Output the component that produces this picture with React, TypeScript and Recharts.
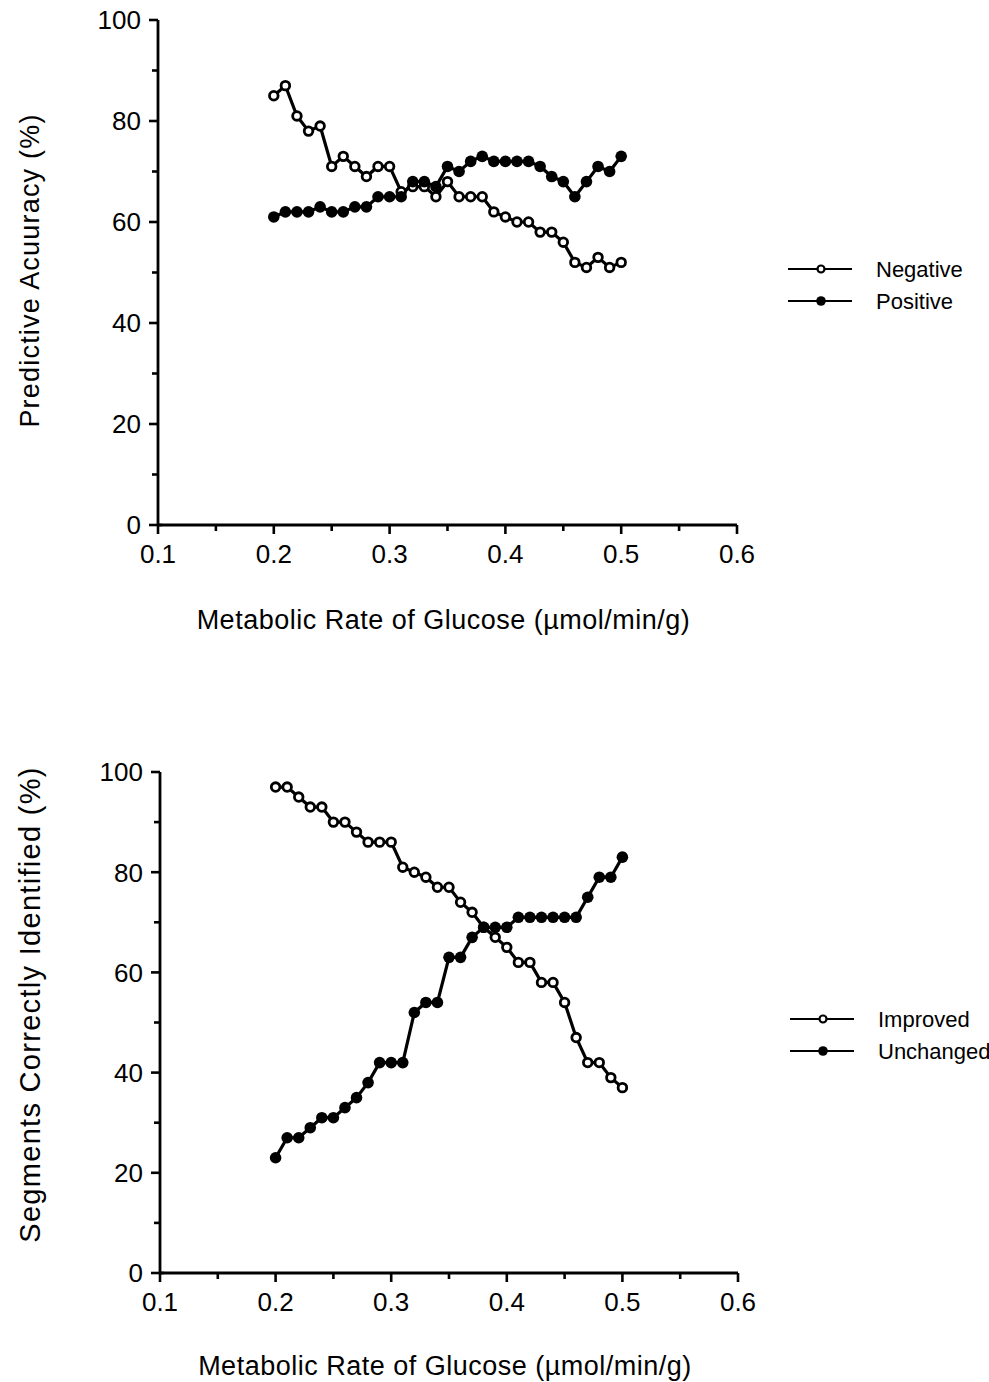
import React from 'react';
import { LineChart, Line, XAxis, YAxis, Legend, Label } from 'recharts';

const FONT = '"Liberation Sans", Arial, Helvetica, sans-serif';

// Metabolic rate of glucose (µmol/min/g) thresholds
const glucoseRates = [
  0.2, 0.21, 0.22, 0.23, 0.24, 0.25, 0.26, 0.27, 0.28, 0.29, 0.3,
  0.31, 0.32, 0.33, 0.34, 0.35, 0.36, 0.37, 0.38, 0.39, 0.4,
  0.41, 0.42, 0.43, 0.44, 0.45, 0.46, 0.47, 0.48, 0.49, 0.5,
];

// Predictive accuracy (%)
const negativeAccuracy = [
  85, 87, 81, 78, 79, 71, 73, 71, 69, 71, 71,
  66, 67, 67, 65, 68, 65, 65, 65, 62, 61,
  60, 60, 58, 58, 56, 52, 51, 53, 51, 52,
];
const positiveAccuracy = [
  61, 62, 62, 62, 63, 62, 62, 63, 63, 65, 65,
  65, 68, 68, 67, 71, 70, 72, 73, 72, 72,
  72, 72, 71, 69, 68, 65, 68, 71, 70, 73,
];

// Segments correctly identified (%)
const improvedSegments = [
  97, 97, 95, 93, 93, 90, 90, 88, 86, 86, 86,
  81, 80, 79, 77, 77, 74, 72, 69, 67, 65,
  62, 62, 58, 58, 54, 47, 42, 42, 39, 37,
];
const unchangedSegments = [
  23, 27, 27, 29, 31, 31, 33, 35, 38, 42, 42,
  42, 52, 54, 54, 63, 63, 67, 69, 69, 69,
  71, 71, 71, 71, 71, 71, 75, 79, 79, 83,
];

// Axis ticks
const xMajorTicks = [0.1, 0.2, 0.3, 0.4, 0.5, 0.6];
const xMinorTicks = [0.15, 0.25, 0.35, 0.45, 0.55];
const yMajorTicks = [0, 20, 40, 60, 80, 100];
const yMinorTicks = [10, 30, 50, 70, 90];

const xTicks = [...xMajorTicks, ...xMinorTicks].sort((a, b) => a - b);
const yTicks = [...yMajorTicks, ...yMinorTicks].sort((a, b) => a - b);

const accuracyRows = glucoseRates.map((rate, i) => ({
  rate,
  negative: negativeAccuracy[i],
  positive: positiveAccuracy[i],
}));

const segmentRows = glucoseRates.map((rate, i) => ({
  rate,
  improved: improvedSegments[i],
  unchanged: unchangedSegments[i],
}));

const isMajor = (v: number, majors: number[]) => majors.some((m) => Math.abs(m - v) < 1e-6);

const XTick = (props: any) => {
  const { x, y, payload } = props;
  const major = isMajor(payload.value, xMajorTicks);
  return (
    <g>
      <line x1={x} x2={x} y1={y} y2={y + (major ? 9 : 6)} stroke="#000" strokeWidth={2.6} />
      {major && (
        <text x={x} y={y + 38} textAnchor="middle" fontSize={26} fontFamily={FONT} fill="#000">
          {Number(payload.value).toFixed(1)}
        </text>
      )}
    </g>
  );
};

const YTick = (props: any) => {
  const { x, y, payload } = props;
  const major = isMajor(payload.value, yMajorTicks);
  return (
    <g>
      <line
        x1={x - (major ? 9 : 6)}
        x2={payload.value === 0 ? x + 4 : x}
        y1={y}
        y2={y}
        stroke="#000"
        strokeWidth={2.6}
      />
      {major && (
        <text x={x - 17} y={y} dy="0.36em" textAnchor="end" fontSize={26} fontFamily={FONT} fill="#000">
          {payload.value}
        </text>
      )}
    </g>
  );
};

const XTitle = (props: any) => {
  const { viewBox, text, gap } = props;
  const cx = viewBox.x + viewBox.width / 2 - 4;
  return (
    <text
      x={cx}
      y={viewBox.y + gap}
      textAnchor="middle"
      dominantBaseline="central"
      fontSize={27}
      fontFamily={FONT}
      fill="#000"
      letterSpacing={0.5}
    >
      {text}
    </text>
  );
};

const YTitle = (props: any) => {
  const { viewBox, text, shift, size, spacing } = props;
  const cx = viewBox.x + 30;
  const cy = viewBox.y + viewBox.height / 2 + shift;
  return (
    <text
      x={cx}
      y={cy}
      transform={`rotate(-90, ${cx}, ${cy})`}
      textAnchor="middle"
      dominantBaseline="central"
      fontSize={size}
      fontFamily={FONT}
      fill="#000"
      letterSpacing={spacing}
    >
      {text}
    </text>
  );
};

type SeriesDef = { key: string; name: string; filled: boolean };

const accuracySeries: SeriesDef[] = [
  { key: 'negative', name: 'Negative', filled: false },
  { key: 'positive', name: 'Positive', filled: true },
];
const segmentSeries: SeriesDef[] = [
  { key: 'improved', name: 'Improved', filled: false },
  { key: 'unchanged', name: 'Unchanged', filled: true },
];

const makeLegend = (series: SeriesDef[]) => (props: any) => {
  const payload: any[] = props.payload || [];
  const rowH = 32;
  return (
    <svg width={220} height={rowH * payload.length} style={{ display: 'block' }}>
      {payload.map((entry, i) => {
        const def = series.find((s) => s.key === entry.dataKey) || series[i];
        const cy = rowH * i + rowH / 2;
        return (
          <g key={def.key}>
            <line x1={8} x2={72} y1={cy} y2={cy} stroke="#000" strokeWidth={1.8} />
            <circle
              cx={41}
              cy={cy}
              r={def.filled ? 4.8 : 3.5}
              fill={def.filled ? '#000' : '#fff'}
              stroke="#000"
              strokeWidth={def.filled ? 0 : 2.2}
            />
            <text x={96} y={cy} dy="0.36em" fontSize={22} fontFamily={FONT} fill="#000">
              {entry.value}
            </text>
          </g>
        );
      })}
    </svg>
  );
};

const dotFor = (filled: boolean) =>
  filled
    ? { r: 5.8, fill: '#000', stroke: '#000', strokeWidth: 0 }
    : { r: 4.3, fill: '#fff', stroke: '#000', strokeWidth: 2.8 };

const XTITLE = 'Metabolic Rate of Glucose (\u00b5mol/min/g)';

export default function App() {
  return (
    <div style={{ position: 'absolute', left: 0, top: 0, width: 989, height: 1382, background: '#fff' }}>
      <div style={{ position: 'absolute', left: 0, top: 0 }}>
        <LineChart width={989} height={691} data={accuracyRows} margin={{ top: 20, right: 252, left: 0, bottom: 0 }}>
          <XAxis
            dataKey="rate"
            type="number"
            domain={[0.1, 0.6]}
            ticks={xTicks}
            interval={0}
            height={166}
            tickSize={0}
            tickMargin={0}
            tickLine={false}
            axisLine={{ stroke: '#000', strokeWidth: 2.8 }}
            tick={<XTick />}
          >
            <Label content={<XTitle text={XTITLE} gap={95} />} />
          </XAxis>
          <YAxis
            type="number"
            domain={[0, 100]}
            ticks={yTicks}
            interval={0}
            width={158}
            tickSize={0}
            tickMargin={0}
            tickLine={false}
            axisLine={{ stroke: '#000', strokeWidth: 2.8 }}
            tick={<YTick />}
          >
            <Label content={<YTitle text="Predictive Acuuracy (%)" shift={-2} size={27} spacing={1.2} />} />
          </YAxis>
          <Legend
            layout="horizontal"
            align="center"
            verticalAlign="middle"
            wrapperStyle={{ left: 780, top: 253, width: 220 }}
            content={makeLegend(accuracySeries)}
          />
          {accuracySeries.map((s) => (
            <Line
              key={s.key}
              type="linear"
              dataKey={s.key}
              name={s.name}
              stroke="#000"
              strokeWidth={3.2}
              dot={dotFor(s.filled)}
              activeDot={false}
              isAnimationActive={false}
            />
          ))}
        </LineChart>
      </div>
      <div style={{ position: 'absolute', left: 0, top: 691 }}>
        <LineChart width={989} height={691} data={segmentRows} margin={{ top: 81, right: 251, left: 0, bottom: 0 }}>
          <XAxis
            dataKey="rate"
            type="number"
            domain={[0.1, 0.6]}
            ticks={xTicks}
            interval={0}
            height={109}
            tickSize={0}
            tickMargin={0}
            tickLine={false}
            axisLine={{ stroke: '#000', strokeWidth: 2.8 }}
            tick={<XTick />}
          >
            <Label content={<XTitle text={XTITLE} gap={93} />} />
          </XAxis>
          <YAxis
            type="number"
            domain={[0, 100]}
            ticks={yTicks}
            interval={0}
            width={160}
            tickSize={0}
            tickMargin={0}
            tickLine={false}
            axisLine={{ stroke: '#000', strokeWidth: 2.8 }}
            tick={<YTick />}
          >
            <Label content={<YTitle text="Segments Correctly Identified (%)" shift={-18} size={29} spacing={1.3} />} />
          </YAxis>
          <Legend
            layout="horizontal"
            align="center"
            verticalAlign="middle"
            wrapperStyle={{ left: 782, top: 312, width: 220 }}
            content={makeLegend(segmentSeries)}
          />
          {segmentSeries.map((s) => (
            <Line
              key={s.key}
              type="linear"
              dataKey={s.key}
              name={s.name}
              stroke="#000"
              strokeWidth={3.2}
              dot={dotFor(s.filled)}
              activeDot={false}
              isAnimationActive={false}
            />
          ))}
        </LineChart>
      </div>
    </div>
  );
}
